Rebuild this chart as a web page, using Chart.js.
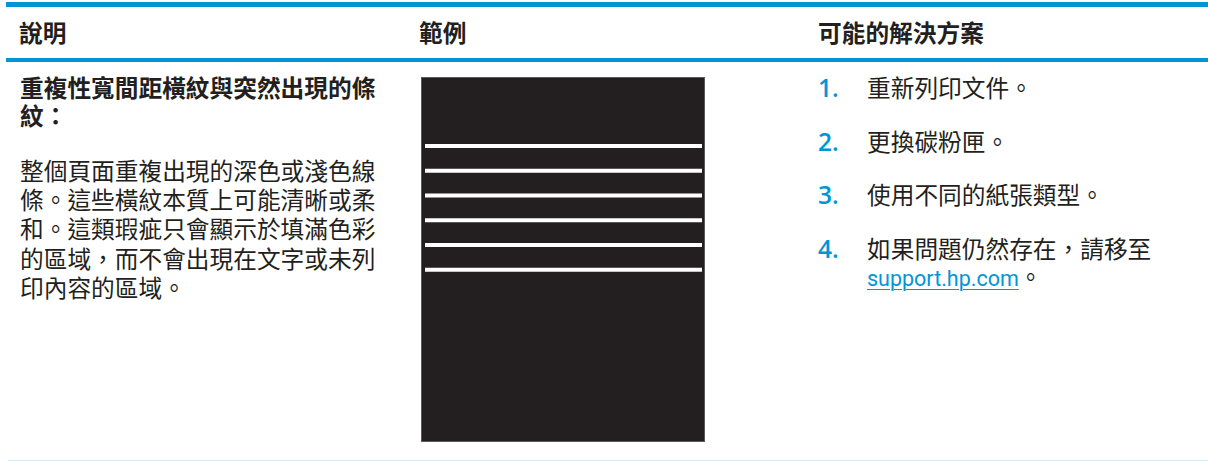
<!DOCTYPE html>
<html>
<head>
<meta charset="utf-8">
<script src="https://cdn.jsdelivr.net/npm/chart.js@4"></script>
<style>
  html, body { margin: 0; padding: 0; background: #fff; }
  body { width: 1208px; height: 461px; position: relative; overflow: hidden;
         font-family: "Noto Sans CJK TC", sans-serif; color: #231f20; font-size: 23.7px; }
  .rule { position: absolute; left: 6px; right: 0; background: #0096d6; }
  .abs { position: absolute; white-space: nowrap; }
  .th { font-weight: 700; line-height: 28px; top: 18px; }
  .item { position: absolute; left: 818px; width: 380px; line-height: 28px;
          padding-left: 49px; text-indent: -49px; white-space: nowrap; }
  .num { display: inline-block; width: 49px; text-indent: 0; line-height: 20px;
         color: #0096d6; font-family: "Open Sans", sans-serif; font-weight: 600; font-size: 24.5px; }
  a { color: #0096d6; font-family: Roboto, sans-serif; font-size: 21.5px;
      text-decoration: underline; text-underline-offset: 3px; text-decoration-thickness: 1px; }
  #sheetBox { position: absolute; left: 421px; top: 77px; width: 284px; height: 365px; }
  #sheet { background: #231f20; box-shadow: inset 0 0 0 1px #5a5a5a; display: block; }
</style>
</head>
<body>
<div class="rule" style="top:2px;height:5px;"></div>
<div class="rule" style="top:58px;height:4px;"></div>
<div class="rule" style="top:460px;height:1px;left:8px;background:#d6edf8;"></div>

<div class="abs th" style="left:19px;">說明</div>
<div class="abs th" style="left:419px;">範例</div>
<div class="abs th" style="left:818px;">可能的解決方案</div>

<div class="abs" style="left:20px;top:73px;font-weight:700;line-height:28px;">重複性寬間距橫紋與突然出現的條<br>紋：</div>
<div class="abs" style="left:20px;top:156px;line-height:29.2px;">整個頁面重複出現的深色或淺色線<br>條。這些橫紋本質上可能清晰或柔<br>和。這類瑕疵只會顯示於填滿色彩<br>的區域，而不會出現在文字或未列<br>印內容的區域。</div>

<div class="item" style="top:73px;"><span class="num">1.</span>重新列印文件。</div>
<div class="item" style="top:127px;"><span class="num">2.</span>更換碳粉匣。</div>
<div class="item" style="top:180px;"><span class="num">3.</span>使用不同的紙張類型。</div>
<div class="item" style="top:234px;"><span class="num">4.</span>如果問題仍然存在，請移至<br><a>support.hp.com</a>。</div>

<div id="sheetBox"><canvas id="sheet" width="284" height="365"></canvas></div>

<script>
// Sheet coordinates (same units as the sample page, top = 0)
const sheetWidth = 284;
const sheetHeight = 365;
const stripeRows = [69, 93.7, 118.5, 143.3, 168, 192.8];
const stripeStart = 4;
const stripeEnd = 281;

document.addEventListener("DOMContentLoaded", () => {
    const ctx = document.getElementById("sheet").getContext("2d");

    new Chart(ctx, {
        type: "scatter",
        data: {
            datasets: stripeRows.map(row => ({
                data: [{ x: stripeStart, y: row }, { x: stripeEnd, y: row }],
                showLine: true,
                borderColor: "#ffffff",
                borderWidth: 4,
                borderCapStyle: "butt",
                pointRadius: 0,
            })),
        },
        options: {
            responsive: false,
            animation: false,
            layout: { padding: 0 },
            plugins: {
                legend: { display: false },
                tooltip: { enabled: false },
            },
            scales: {
                x: { type: "linear", min: 0, max: sheetWidth, display: false },
                y: { type: "linear", min: 0, max: sheetHeight, reverse: true, display: false },
            },
        },
    });
});
</script>
</body>
</html>
